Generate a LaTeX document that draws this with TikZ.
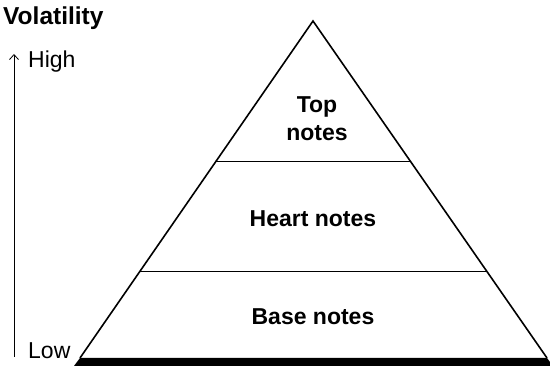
\documentclass[tikz,border=0pt]{standalone}
\usepackage{fontspec}
\setmainfont{Liberation Sans}
\usepackage{tikz}
\usetikzlibrary{calc}
\usetikzlibrary{arrows.meta}

\begin{document}
\begin{tikzpicture}[
    x=1pt, y=-1pt,
    layer label/.style={font=\bfseries\fontsize{23}{28}\selectfont, align=center, inner sep=0pt},
    axis label/.style={font=\fontsize{23}{28}\selectfont, anchor=west, inner sep=0pt},
  ]
  \useasboundingbox (0,0) rectangle (550,366);

  \coordinate (apex)  at (313, 21);
  \coordinate (left)  at (80, 358);
  \coordinate (right) at (547, 358);

  % pyramid
  \draw[line width=1.6pt, line join=miter] (left) -- (apex) -- (right);
  \fill (left) -- (right) -- (553,366) -- (74,366) -- cycle;

  \draw[line width=0.8pt] ($(apex)!0.418!(left)$) -- ($(apex)!0.418!(right)$);
  \draw[line width=0.8pt] ($(apex)!0.742!(left)$) -- ($(apex)!0.742!(right)$);

  \node[layer label] (top)   at (317, 119) {Top\\notes};
  \node[layer label] (heart) at (313, 219) {Heart notes};
  \node[layer label] (base)  at (313, 317) {Base notes};

  % volatility axis
  \node[font=\bfseries\fontsize{24.5}{29}\selectfont, anchor=west, inner sep=0pt] (title) at (3, 18) {Volatility};
  \coordinate (lo) at (14, 357);
  \coordinate (hi) at (14, 54);
  \draw[line width=0.8pt, -{Straight Barb[length=5pt, width=9pt]}] (lo) -- (hi);
  \node[axis label] (high) at (28, 62)  {High};
  \node[axis label] (low)  at (28, 351) {Low};

\end{tikzpicture}
\end{document}
